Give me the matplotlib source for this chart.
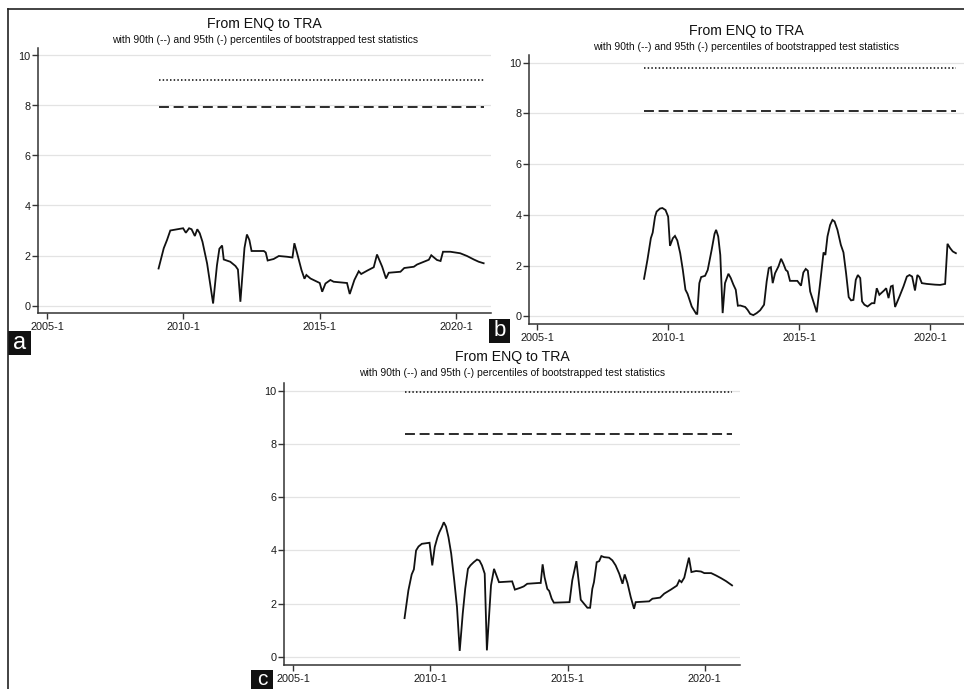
import matplotlib
matplotlib.use("Agg")
import matplotlib.pyplot as plt
from matplotlib.lines import Line2D
from matplotlib.patches import Rectangle

plt.rcParams["font.family"] = ["Liberation Sans", "DejaVu Sans"]

# ---------------------------------------------------------------------------
# Rolling test statistic, ENQ -> TRA (dates as decimal years)
# ---------------------------------------------------------------------------
a_years = [2009.09, 2009.28, 2009.40, 2009.52, 2009.99, 2010.09, 2010.21, 2010.30,
           2010.42, 2010.51, 2010.60, 2010.70, 2010.87, 2011.09, 2011.23, 2011.32,
           2011.42, 2011.48, 2011.72, 2011.91, 2012.00, 2012.09, 2012.24, 2012.33,
           2012.42, 2012.50, 2012.95, 2013.02, 2013.09, 2013.31, 2013.50, 2013.80,
           2014.00, 2014.07, 2014.17, 2014.33, 2014.44, 2014.51, 2014.66, 2015.00,
           2015.09, 2015.21, 2015.39, 2015.51, 2016.00, 2016.10, 2016.27, 2016.43,
           2016.52, 2016.75, 2016.98, 2017.10, 2017.29, 2017.43, 2017.53, 2017.96,
           2018.10, 2018.45, 2018.57, 2019.00, 2019.09, 2019.30, 2019.43, 2019.52,
           2019.79, 2020.15, 2020.40, 2020.65, 2020.83, 2021.01]
a_vals = [1.48, 2.29, 2.62, 3.00, 3.09, 2.91, 3.09, 3.05,
          2.78, 3.05, 2.89, 2.55, 1.68, 0.08, 1.60, 2.27,
          2.40, 1.84, 1.75, 1.58, 1.44, 0.15, 2.30, 2.84,
          2.62, 2.18, 2.18, 2.12, 1.80, 1.86, 1.98, 1.95,
          1.92, 2.49, 2.09, 1.42, 1.07, 1.22, 1.08, 0.90,
          0.55, 0.88, 1.02, 0.95, 0.90, 0.46, 1.02, 1.37,
          1.26, 1.40, 1.53, 2.04, 1.55, 1.08, 1.31, 1.35,
          1.50, 1.55, 1.64, 1.83, 2.01, 1.82, 1.78, 2.15,
          2.15, 2.09, 1.98, 1.84, 1.75, 1.69]
a_p90, a_p95 = 7.93, 9.02

b_years = [2009.07, 2009.20, 2009.33, 2009.40, 2009.49, 2009.55, 2009.68, 2009.77,
           2009.89, 2009.99, 2010.06, 2010.17, 2010.25, 2010.34, 2010.45, 2010.55,
           2010.65, 2010.73, 2010.89, 2011.06, 2011.10, 2011.18, 2011.25, 2011.40,
           2011.50, 2011.65, 2011.76, 2011.82, 2011.90, 2011.98, 2012.07, 2012.16,
           2012.29, 2012.38, 2012.48, 2012.57, 2012.65, 2012.74, 2012.93, 2013.02,
           2013.12, 2013.24, 2013.37, 2013.50, 2013.65, 2013.75, 2013.83, 2013.91,
           2013.98, 2014.07, 2014.20, 2014.30, 2014.39, 2014.48, 2014.55, 2014.64,
           2014.92, 2015.06, 2015.15, 2015.24, 2015.32, 2015.41, 2015.53, 2015.66,
           2015.79, 2015.92, 2015.99, 2016.07, 2016.17, 2016.26, 2016.34, 2016.45,
           2016.58, 2016.68, 2016.78, 2016.88, 2016.97, 2017.06, 2017.15, 2017.23,
           2017.32, 2017.39, 2017.48, 2017.60, 2017.76, 2017.86, 2017.95, 2018.05,
           2018.23, 2018.31, 2018.40, 2018.49, 2018.56, 2018.65, 2018.82, 2018.97,
           2019.10, 2019.20, 2019.30, 2019.41, 2019.50, 2019.58, 2019.67, 2019.86,
           2020.18, 2020.37, 2020.56, 2020.65, 2020.75, 2020.85, 2020.97]
b_vals = [1.48, 2.23, 3.08, 3.30, 3.93, 4.13, 4.25, 4.27,
          4.19, 3.93, 2.78, 3.08, 3.17, 2.99, 2.49, 1.83,
          1.05, 0.89, 0.39, 0.10, 0.10, 1.31, 1.55, 1.60,
          1.83, 2.62, 3.25, 3.41, 3.15, 2.42, 0.13, 1.31,
          1.68, 1.51, 1.25, 1.05, 0.42, 0.43, 0.37, 0.26,
          0.10, 0.05, 0.13, 0.24, 0.46, 1.38, 1.90, 1.94,
          1.31, 1.70, 1.97, 2.27, 2.07, 1.83, 1.77, 1.40,
          1.40, 1.21, 1.73, 1.87, 1.80, 0.98, 0.59, 0.16,
          1.31, 2.52, 2.42, 3.15, 3.60, 3.80, 3.74, 3.41,
          2.82, 2.52, 1.70, 0.76, 0.63, 0.65, 1.44, 1.63,
          1.51, 0.59, 0.46, 0.39, 0.52, 0.52, 1.11, 0.85,
          1.02, 1.11, 0.72, 1.18, 1.21, 0.37, 0.79, 1.18,
          1.57, 1.63, 1.57, 1.02, 1.63, 1.55, 1.31, 1.28,
          1.25, 1.24, 1.28, 2.86, 2.69, 2.56, 2.49]
b_p90, b_p95 = 8.10, 9.78

c_years = [2009.06, 2009.20, 2009.32, 2009.40, 2009.48, 2009.57, 2009.69, 2009.97,
           2010.07, 2010.16, 2010.26, 2010.33, 2010.42, 2010.49, 2010.57, 2010.66,
           2010.76, 2010.87, 2010.97, 2011.07, 2011.18, 2011.27, 2011.37, 2011.46,
           2011.58, 2011.70, 2011.79, 2011.88, 2011.98, 2012.06, 2012.21, 2012.32,
           2012.41, 2012.50, 2012.98, 2013.08, 2013.28, 2013.40, 2013.53, 2013.95,
           2014.02, 2014.09, 2014.16, 2014.26, 2014.33, 2014.42, 2014.50, 2015.07,
           2015.17, 2015.26, 2015.32, 2015.48, 2015.60, 2015.72, 2015.82, 2015.90,
           2015.96, 2016.06, 2016.15, 2016.23, 2016.33, 2016.51, 2016.63, 2016.75,
           2016.88, 2017.00, 2017.08, 2017.18, 2017.30, 2017.42, 2017.48, 2017.97,
           2018.09, 2018.37, 2018.52, 2018.76, 2018.98, 2019.07, 2019.15, 2019.25,
           2019.34, 2019.42, 2019.51, 2019.68, 2019.86, 2019.98, 2020.23, 2020.41,
           2020.59, 2020.77, 2020.99]
c_vals = [1.46, 2.50, 3.10, 3.29, 4.00, 4.15, 4.25, 4.29,
          3.44, 4.13, 4.50, 4.69, 4.88, 5.06, 4.90, 4.50,
          3.88, 2.88, 1.88, 0.23, 1.63, 2.56, 3.31, 3.44,
          3.56, 3.66, 3.62, 3.44, 3.13, 0.25, 2.69, 3.31,
          3.06, 2.81, 2.84, 2.53, 2.60, 2.65, 2.75, 2.78,
          2.78, 3.48, 3.00, 2.56, 2.48, 2.19, 2.04, 2.06,
          2.88, 3.31, 3.60, 2.15, 2.00, 1.85, 1.85, 2.56,
          2.81, 3.56, 3.60, 3.79, 3.75, 3.73, 3.63, 3.44,
          3.13, 2.75, 3.10, 2.78, 2.25, 1.81, 2.06, 2.09,
          2.19, 2.23, 2.38, 2.53, 2.68, 2.88, 2.81, 2.98,
          3.38, 3.73, 3.19, 3.23, 3.21, 3.15, 3.15, 3.06,
          2.96, 2.85, 2.69]
c_p90, c_p95 = 8.36, 9.96

x_ticks = [2005, 2010, 2015, 2020]
x_tick_labels = ["2005-1", "2010-1", "2015-1", "2020-1"]
y_ticks = [0, 2, 4, 6, 8, 10]

title_text = "From ENQ to TRA"
subtitle_text = "with 90th (--) and 95th (-) percentiles of bootstrapped test statistics"

# ---------------------------------------------------------------------------
W, H = 964, 689
fig = plt.figure(figsize=(W / 100, H / 100), dpi=100)
fig.patch.set_facecolor("white")


def px_axes(x0, y0, x1, y1):
    """Create axes from pixel box (top-left origin)."""
    return fig.add_axes([x0 / W, 1 - y1 / H, (x1 - x0) / W, (y1 - y0) / H])


def draw_panel(ax, years, vals, p90, p95, title_y, sub_y):
    ax.set_xlim(2004.68, 2021.28)
    ax.set_ylim(-0.3, 10.3)
    ax.set_yticks(y_ticks)
    ax.set_xticks(x_ticks)
    ax.set_xticklabels(x_tick_labels)
    ax.grid(axis="y", color="#e3e3e3", lw=0.9)
    ax.set_axisbelow(True)
    for side in ("top", "right"):
        ax.spines[side].set_visible(False)
    for side in ("left", "bottom"):
        ax.spines[side].set_color("#333333")
        ax.spines[side].set_linewidth(1.1)
    ax.tick_params(axis="both", colors="#333333", labelcolor="#1a1a1a",
                   labelsize=7.8, length=4, width=1.0)
    ax.tick_params(axis="y", pad=1.5)
    ax.tick_params(axis="x", pad=2.5)

    x0, x1 = years[0], years[-1]
    ax.plot([x0, x1], [p95, p95], color="#1a1a1a", lw=1.2, dashes=(0.9, 1.3))
    ax.plot([x0, x1], [p90, p90], color="#1a1a1a", lw=1.3, dashes=(5.5, 2.6))
    ax.plot(years, vals, color="#111111", lw=1.3, solid_joinstyle="miter")

    bb = ax.get_position()
    cx = (bb.x0 + bb.x1) / 2
    fig.text(cx, 1 - title_y / H, title_text, ha="center", va="center",
             fontsize=10.2, color="#111111")
    fig.text(cx, 1 - sub_y / H, subtitle_text, ha="center", va="center",
             fontsize=7.5, color="#111111")


ax_a = px_axes(38.3, 48, 491, 313)
draw_panel(ax_a, a_years, a_vals, a_p90, a_p95, 24.3, 40.3)

ax_b = px_axes(529, 55, 964, 324)
draw_panel(ax_b, b_years, b_vals, b_p90, b_p95, 31, 47)

ax_c = px_axes(284.3, 382.7, 740, 665)
draw_panel(ax_c, c_years, c_vals, c_p90, c_p95, 356.7, 373)

# Outer frame (top and left edges)
fig.add_artist(Line2D([8 / W, 1], [1 - 9 / H, 1 - 9 / H], transform=fig.transFigure,
                      color="#222222", lw=1.2))
fig.add_artist(Line2D([8 / W, 8 / W], [0, 1 - 9 / H], transform=fig.transFigure,
                      color="#222222", lw=1.2))

# Panel letters in black boxes
for letter, (bx0, by0, bx1, by1), fs in [("a", (8, 331, 31, 355), 17),
                                         ("b", (489, 319, 510, 343), 16),
                                         ("c", (251, 670, 273, 689), 15)]:
    fig.add_artist(Rectangle((bx0 / W, 1 - by1 / H), (bx1 - bx0) / W, (by1 - by0) / H,
                             transform=fig.transFigure, facecolor="#111111",
                             edgecolor="none"))
    fig.text((bx0 + bx1) / 2 / W, 1 - (by0 + by1) / 2 / H, letter, ha="center",
             va="center", color="white", fontsize=fs)

fig.savefig("out.png", dpi=100, facecolor="white")
